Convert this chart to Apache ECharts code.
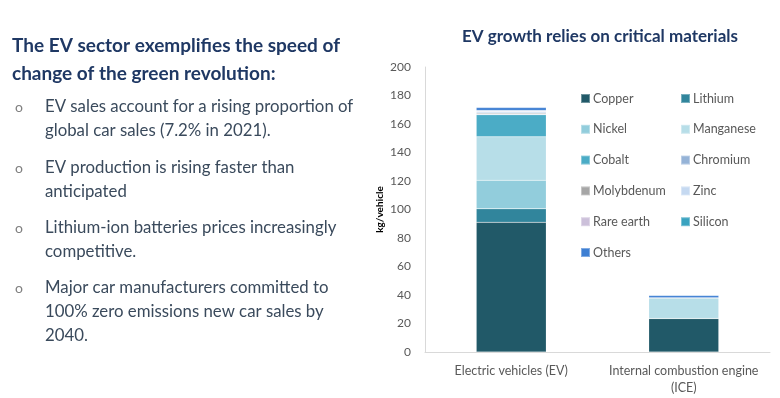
<!DOCTYPE html>
<html><head><meta charset="utf-8">
<script src="https://cdn.jsdelivr.net/npm/echarts@6/dist/echarts.min.js"></script>
<style>html,body{margin:0;padding:0;background:#fff}#c{width:780px;height:398px}</style>
</head><body><div id="c"></div>
<script>
const categories = ['Electric vehicles (EV)', 'Internal combustion engine\n(ICE)'];
const materials = ['Copper','Lithium','Nickel','Manganese','Cobalt','Chromium','Molybdenum','Zinc','Rare earth','Silicon','Others'];
const copper     = [91, 23.5];
const lithium    = [9.5, 0];
const nickel     = [20, 0];
const manganese  = [30.5, 14.5];
const cobalt     = [15.5, 0];
const chromium   = [0.5, 0];
const molybdenum = [0.8, 0];
const zinc       = [0.8, 0];
const rareEarth  = [0.5, 0];
const silicon    = [0.4, 0];
const others     = [2, 1.6];
const yTicks = [0, 20, 40, 60, 80, 100, 120, 140, 160, 180, 200];

const seriesValues = [copper, lithium, nickel, manganese, cobalt, chromium, molybdenum, zinc, rareEarth, silicon, others];
const colors = ['#215968','#31859c','#92cddc','#b7dee8','#4bacc6','#95b3d7','#a6a6a6','#c5d9f1','#ccc0da','#3aa3c0','#3e7fd3'];

const chart = echarts.init(document.getElementById('c'));
const textCol = '#1f3864';
const bodyCol = '#3a4a5c';
const bullets = [
  {y: 107, lines: ['EV sales account for a rising proportion of', 'global car sales (7.2% in 2021).']},
  {y: 168, lines: ['EV production is rising faster than', 'anticipated']},
  {y: 228, lines: ['Lithium-ion batteries prices increasingly', 'competitive.']},
  {y: 288, lines: ['Major car manufacturers committed to', '100% zero emissions new car sales by', '2040.']}
];
const graphics = [
  {type:'text', left:12, top:32, style:{text:'The EV sector exemplifies the speed of\nchange of the green revolution:', font:'bold 19px Lato', fill:textCol, lineHeight:28}}
];
bullets.forEach(b => {
  graphics.push({type:'text', left:15, top:b.y - 7, style:{text:'o', font:'14px Lato', fill:'#808080'}});
  graphics.push({type:'text', left:45, top:b.y - 12, style:{text:b.lines.join('\n'), font:'16.8px Lato', fill:bodyCol, lineHeight:24}});
});

const leftCol = ['Copper','Nickel','Cobalt','Molybdenum','Rare earth','Others'];
const rightCol = ['Lithium','Manganese','Chromium','Zinc','Silicon'];
const legendCommon = {orient:'vertical', top:87, itemWidth:9, itemHeight:9, itemGap:17.8, icon:'rect',
  textStyle:{color:'#595959', fontSize:12.5, fontFamily:'Lato', padding:[0,0,0,-2]}};

chart.setOption({
  animation:false,
  title:{text:'EV growth relies on critical materials', left:595, textAlign:'center', top:23,
    textStyle:{fontSize:17, fontWeight:'bold', color:textCol, fontFamily:'Lato'}},
  graphic: graphics,
  legend:[
    Object.assign({}, legendCommon, {left:575, data:leftCol}),
    Object.assign({}, legendCommon, {left:675, data:rightCol})
  ],
  grid:{left:425, right:10, top:67, bottom:46},
  xAxis:{type:'category', data:categories,
    axisLine:{lineStyle:{color:'#d9d9d9'}}, axisTick:{show:false},
    axisLabel:{color:'#595959', fontSize:12.5, fontFamily:'Lato', lineHeight:17, margin:10, interval:0}},
  yAxis:{type:'value', min:0, max:200, interval:20,
    name:'kg/vehicle', nameLocation:'middle', nameGap:40, nameRotate:90,
    nameTextStyle:{fontSize:10, fontWeight:'bold', color:'#000', fontFamily:'Lato'},
    axisLine:{show:true, lineStyle:{color:'#d9d9d9'}}, axisTick:{show:false},
    splitLine:{show:false},
    axisLabel:{color:'#595959', fontSize:12, fontFamily:'Lato', margin:14,
      formatter: v => yTicks.includes(v) ? String(v) : ''}},
  series: materials.map((m,i) => ({
    name:m, type:'bar', stack:'total', barWidth:70, data:seriesValues[i],
    itemStyle:{color:colors[i], borderColor:'rgba(255,255,255,0.35)', borderWidth:0.5}
  }))
});
</script></body></html>
